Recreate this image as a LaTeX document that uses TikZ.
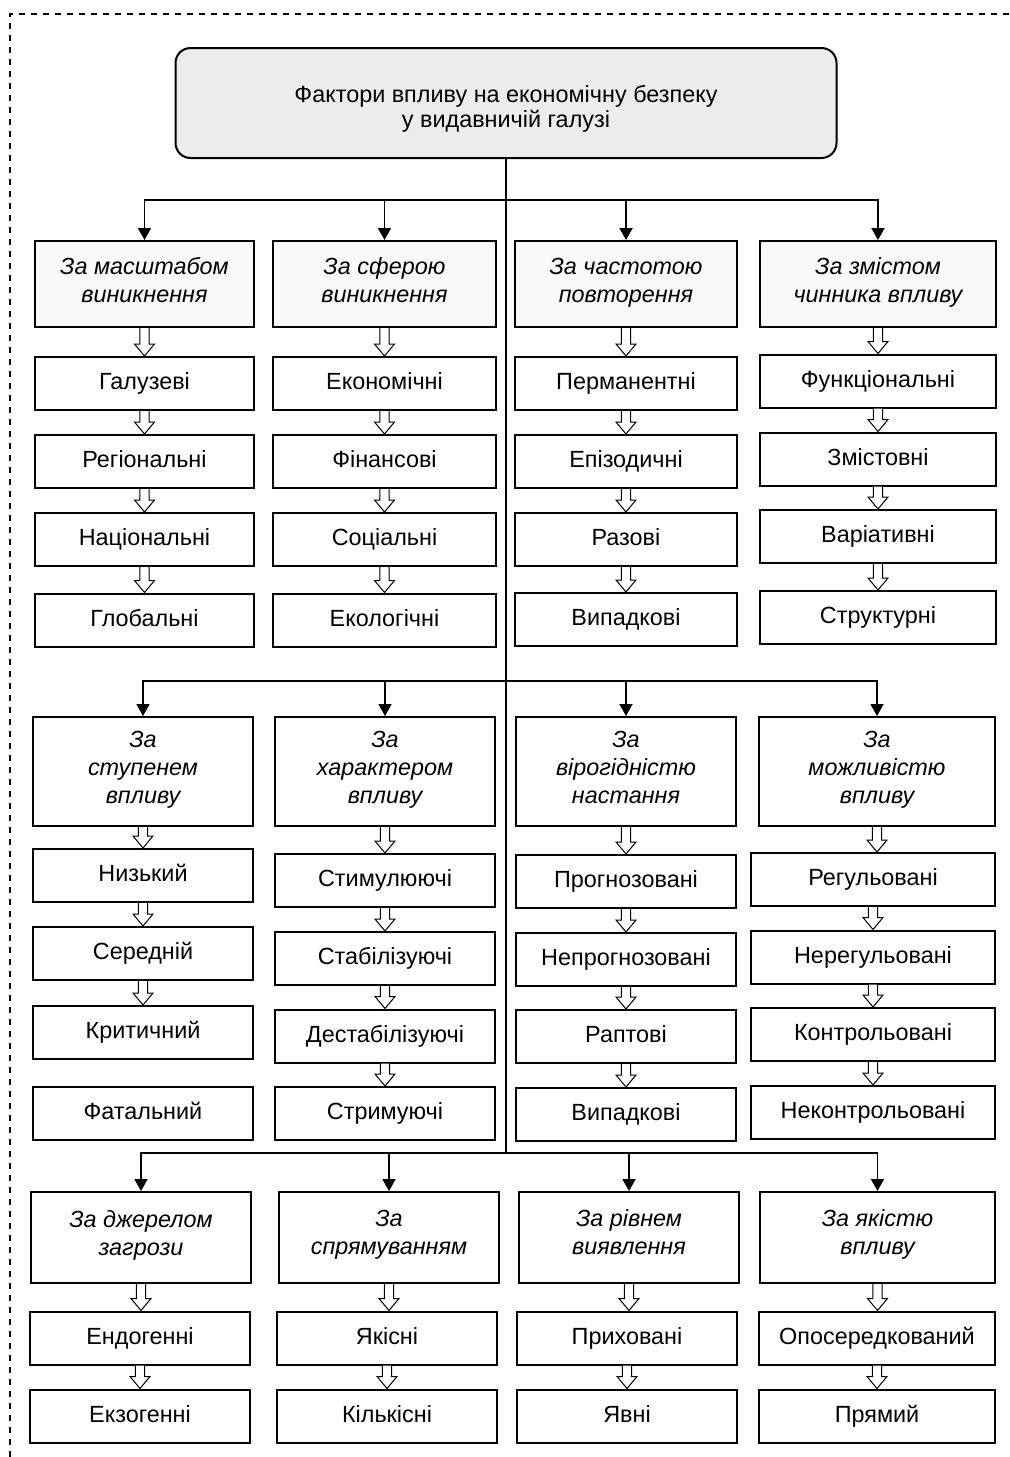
\documentclass[tikz,border=0pt]{standalone}
\usepackage{fontspec}
\setmainfont{Liberation Sans}
\usetikzlibrary{arrows.meta, calc}

\begin{document}
\begin{tikzpicture}[x=0.5pt, y=-0.5pt, >={Triangle[width=6.5pt,length=6pt]},
    every node/.style={font=\fontsize{11.7}{14}\selectfont, align=center, inner sep=2pt},
    box/.style={draw, line width=1pt, execute at begin node={\rule{0pt}{10pt}}},
    head/.style={box, font=\fontsize{11.7}{14}\selectfont\itshape,
        execute at end node={\rule[-#1]{0pt}{#1}}},
    head/.default=4pt,
    item/.style={box, minimum height=26.5pt, execute at end node={\rule[-4pt]{0pt}{4pt}}},
    bus/.style={line width=0.9pt},
    hollow/.style={line width=0.5pt, fill=white},
    frame/.style={line width=0.6pt, dash pattern=on 3pt off 3pt}]

            \useasboundingbox (0,0) rectangle (1009,1457);

            % Dashed frame (only top and left edges on the page)
            \draw[frame] (10,1457) -- (10,14) -- (1009,14);

            % Root
            \node[draw, line width=1pt, rounded corners=7.5pt, fill=gray!15,
                minimum width=330.5pt, minimum height=55pt,
                font=\fontsize{11.7}{12.5}\selectfont] (main)
            at (506,103) {\rule{0pt}{15pt}Фактори впливу на економічну безпеку\\у видавничій галузі\rule[-3pt]{0pt}{3pt}};

            \coordinate (bus1) at (506,200);
            \coordinate (bus2) at (506,681);
            \coordinate (bus3) at (506,1153);

            % Row 1
            \node[head, fill=gray!5, minimum width=109.5pt, minimum height=43pt] (scale) at (144.5,284) {За масштабом\\виникнення};
            \node[head, fill=gray!5, minimum width=111.5pt, minimum height=43pt] (sphere) at (384.5,284) {За сферою\\виникнення};
            \node[head, fill=gray!5, minimum width=111pt, minimum height=43pt] (freq) at (626,284) {За частотою\\повторення};
            \node[head, fill=gray!5, minimum width=118pt, minimum height=43pt] (content) at (878,284) {За змістом\\чинника впливу};

            \foreach \nm/\txt/\y in {branch/Галузеві/383.5, region/Регіональні/461.5, nation/Національні/539.5, global/Глобальні/620} {
                \node[item, minimum width=109.5pt] (\nm) at (144.5,\y) {\txt};
            }
            \foreach \nm/\txt/\y in {econ/Економічні/383.5, fin/Фінансові/461.5, soc/Соціальні/539.5, eco/Екологічні/620} {
                \node[item, minimum width=111.5pt] (\nm) at (384.5,\y) {\txt};
            }
            \foreach \nm/\txt/\y in {perm/Перманентні/383.5, epis/Епізодичні/461.5, once/Разові/539.5, randA/Випадкові/619.5} {
                \node[item, minimum width=111pt] (\nm) at (626,\y) {\txt};
            }
            \foreach \nm/\txt/\y in {func/Функціональні/381, meaning/Змістовні/459, var/Варіативні/536.5, struct/Структурні/617.5} {
                \node[item, minimum width=118pt] (\nm) at (878,\y) {\txt};
            }

            % Row 2
            \node[head, minimum width=110pt, minimum height=54.5pt] (degree) at (143,771.5) {За\\ступенем\\впливу};
            \node[head, minimum width=110pt, minimum height=54.5pt] (nature) at (385,771.5) {За\\характером\\впливу};
            \node[head, minimum width=110pt, minimum height=54.5pt] (prob) at (626,771.5) {За\\вірогідністю\\настання};
            \node[head, minimum width=118pt, minimum height=54.5pt] (control) at (877,771.5) {За\\можливістю\\впливу};

            \foreach \nm/\txt/\y in {low/Низький/875.5, mid/Середній/953.5, crit/Критичний/1032.5, fatal/Фатальний/1113.5} {
                \node[item, minimum width=110pt] (\nm) at (143,\y) {\txt};
            }
            \foreach \nm/\txt/\y in {stim/Стимулюючі/880.5, stab/Стабілізуючі/958.5, destab/Дестабілізуючі/1036, restr/Стримуючі/1113.5} {
                \node[item, minimum width=110pt] (\nm) at (385,\y) {\txt};
            }
            \foreach \nm/\txt/\y in {pred/Прогнозовані/881.5, unpred/Непрогнозовані/959.5, sudden/Раптові/1036.5, randB/Випадкові/1114.5} {
                \node[item, minimum width=110pt] (\nm) at (626,\y) {\txt};
            }
            \foreach \nm/\txt/\y in {reg/Регульовані/879.5, unreg/Нерегульовані/957, contr/Контрольовані/1034.5, uncontr/Неконтрольовані/1112.5} {
                \node[item, minimum width=122pt] (\nm) at (873,\y) {\txt};
            }

            % Row 3
            \node[head=5pt, minimum width=110pt, minimum height=45.5pt] (source) at (141,1237.5) {За джерелом\\загрози};
            \node[head=5pt, minimum width=110pt, minimum height=45.5pt] (direct) at (389,1237.5) {За\\спрямуванням};
            \node[head=5pt, minimum width=110pt, minimum height=45.5pt] (level) at (629,1237.5) {За рівнем\\виявлення};
            \node[head=5pt, minimum width=117.5pt, minimum height=45.5pt] (quality) at (877.5,1237.5) {За якістю\\впливу};

            \node[item, minimum width=110pt] (endo) at (140,1338) {Ендогенні};
            \node[item, minimum width=110pt] (exo) at (140,1416) {Екзогенні};
            \node[item, minimum width=110pt] (qual) at (387,1338) {Якісні};
            \node[item, minimum width=110pt] (quant) at (387,1416) {Кількісні};
            \node[item, minimum width=110pt] (hidden) at (627,1338) {Приховані};
            \node[item, minimum width=110pt] (explicit) at (627,1416) {Явні};
            \node[item, minimum width=118pt] (indirect) at (877,1338) {Опосередкований};
            \node[item, minimum width=118pt] (straight) at (877,1416) {Прямий};

            % Trunk and buses
            \draw[bus] (main) -- (bus3);
            \foreach \b/\h in {bus1/scale, bus1/sphere, bus1/freq, bus1/content,
                               bus2/degree, bus2/nature, bus2/prob, bus2/control,
                               bus3/source, bus3/direct, bus3/level, bus3/quality} {
                \draw[bus, ->] (\b) -| (\h.north);
            }

            % Hollow arrows inside each column
            \foreach \a/\b in {scale/branch, branch/region, region/nation, nation/global,
                               sphere/econ, econ/fin, fin/soc, soc/eco,
                               freq/perm, perm/epis, epis/once, once/randA,
                               content/func, func/meaning, meaning/var, var/struct,
                               degree/low, low/mid, mid/crit,
                               nature/stim, stim/stab, stab/destab, destab/restr,
                               prob/pred, pred/unpred, unpred/sudden, sudden/randB,
                               control/reg, reg/unreg, unreg/contr, contr/uncontr,
                               source/endo, endo/exo, direct/qual, qual/quant,
                               level/hidden, hidden/explicit, quality/indirect, indirect/straight} {
                \draw[hollow] let \p1=(\a.south), \p2=(\b.north) in
                    (\x1-2.3pt,\y1) -- (\x1-2.3pt,\y2+6pt) -- (\x1-5pt,\y2+6pt) -- (\x1,\y2)
                    -- (\x1+5pt,\y2+6pt) -- (\x1+2.3pt,\y2+6pt) -- (\x1+2.3pt,\y1);
            }

        \end{tikzpicture}
\end{document}
